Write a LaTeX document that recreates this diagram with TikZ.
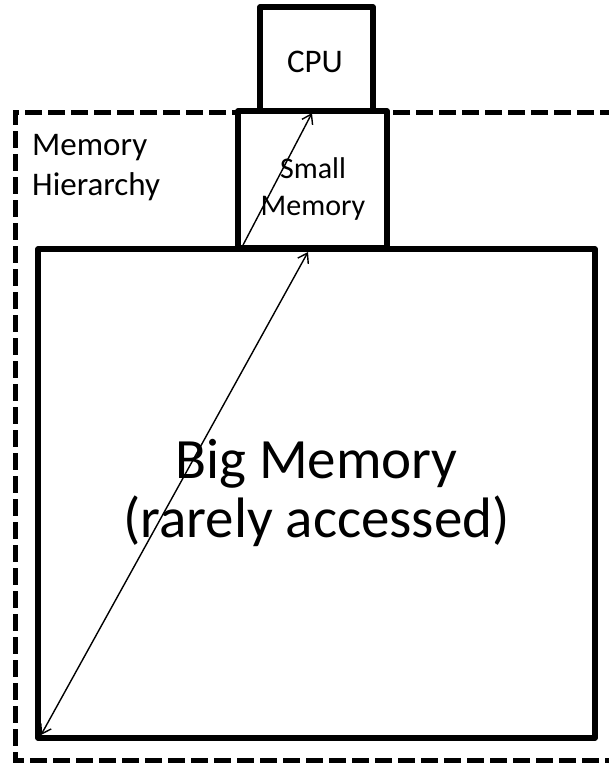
\documentclass[tikz,border=0pt]{standalone}
\usepackage{fontspec}
\setmainfont{Carlito}
\usetikzlibrary{arrows.meta}
\begin{document}
\begin{tikzpicture}[x=1pt,y=-1pt,
  box/.style={draw, line width=5.5pt, fill=white, inner sep=0pt, line join=round},
  conn/.style={line width=1.4pt, line cap=round, -{Straight Barb[length=9pt,width=12pt,line width=1.4pt]}},
  conntwo/.style={line width=1.4pt, line cap=round, {Straight Barb[length=9pt,width=12pt,line width=1.4pt]}-{Straight Barb[length=9pt,width=12pt,line width=1.4pt]}},
  lbl/.style={inner sep=0pt, align=center},
]
\useasboundingbox (0,0) rectangle (608,763);
\draw[line width=5pt, dash pattern=on 17pt off 6pt] (640,112) -- (15,112) -- (15,760) -- (640,760);
\node[box, minimum width=557pt, minimum height=489pt] (big) at (316.5,493.5) {};
\node[box, minimum width=149pt, minimum height=137pt] (small) at (312.5,179.5) {};
\node[box, minimum width=113pt, minimum height=104pt] (cpu) at (316.5,59) {};
\coordinate (a1s) at (41,735);
\coordinate (a1e) at (308,252);
\coordinate (a2s) at (242,247);
\coordinate (a2e) at (312,113);
\draw[conntwo] (a1s) -- (a1e);
\draw[conn] (a2s) -- (a2e);
\node[lbl, anchor=base, font=\fontsize{33}{40}\selectfont] (cputext) at (315,72) {CPU};
\node[lbl, anchor=base, font=\fontsize{30}{37}\selectfont] (smalltext) at (313,215) {Small\\Memory};
\node[lbl, anchor=base, font=\fontsize{57}{59}\selectfont] (bigtext) at (316.5,537) {Big Memory\\(rarely accessed)};
\node[lbl, align=left, anchor=base west, font=\fontsize{33}{40}\selectfont] (hier) at (32,195) {Memory\\Hierarchy};
\end{tikzpicture}
\end{document}
